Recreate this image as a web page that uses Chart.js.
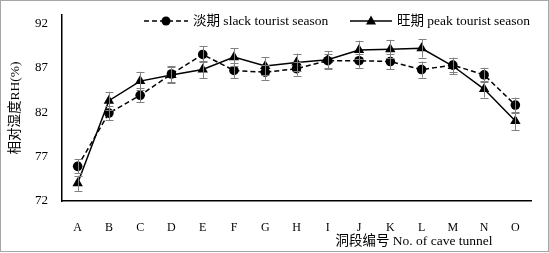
<!doctype html>
<head>
    <title>RH by cave tunnel</title>
    <script src="https://cdn.jsdelivr.net/npm/chart.js"></script>
    <style>
        body { margin: 0; background: #fff; }
        #wrap { position: relative; width: 547px; height: 250px; border: 1px solid #a6a6a6; overflow: hidden; }
        canvas { position: absolute; left: -1px; top: -1px; }
    </style>
</head>
<body>
<div id="wrap">
    <canvas id="myChart" width="549" height="253"></canvas>
</div>
</body>

<script>
    const categories = ['A', 'B', 'C', 'D', 'E', 'F', 'G', 'H', 'I', 'J', 'K', 'L', 'M', 'N', 'O'];
    const slackRH = [75.9, 81.9, 83.9, 86.3, 88.5, 86.7, 86.5, 86.9, 87.8, 87.8, 87.7, 86.8, 87.3, 86.2, 82.8];
    const peakRH = [74.0, 83.3, 85.5, 86.2, 86.8, 88.2, 87.2, 87.6, 87.9, 89.0, 89.1, 89.2, 87.2, 84.6, 81.0];
    const slackErr = [0.8, 0.8, 0.8, 0.9, 0.9, 0.85, 0.85, 0.8, 0.8, 0.8, 0.85, 0.9, 0.8, 0.8, 0.85];
    const peakErr = [0.85, 1.0, 1.05, 0.9, 1.0, 1.0, 1.0, 1.0, 1.0, 1.05, 1.05, 1.05, 0.95, 0.95, 1.0];
    const yTicks = [72, 77, 82, 87, 92];
    const slackLabel = '淡期 slack tourist season';
    const peakLabel = '旺期 peak tourist season';
    const yTitle = '相对湿度RH(%)';
    const xTitle = '洞段编号 No. of cave tunnel';

    const FONT = "'Liberation Serif', 'Noto Sans CJK SC', serif";

    // gray error bars with caps, drawn over the lines
    const errorBars = {
        id: 'errorBars',
        afterDatasetsDraw(chart) {
            const c = chart.ctx;
            const y = chart.scales.y;
            const errs = [slackErr, peakErr];
            c.save();
            c.strokeStyle = '#808080';
            c.lineWidth = 1;
            chart.data.datasets.forEach((ds, i) => {
                chart.getDatasetMeta(i).data.forEach((pt, j) => {
                    const top = y.getPixelForValue(ds.data[j] + errs[i][j]);
                    const bot = y.getPixelForValue(ds.data[j] - errs[i][j]);
                    const x = Math.round(pt.x) + 0.5;
                    c.beginPath();
                    c.moveTo(x, top); c.lineTo(x, bot);
                    c.moveTo(x - 4, Math.round(top) + 0.5); c.lineTo(x + 4, Math.round(top) + 0.5);
                    c.moveTo(x - 4, Math.round(bot) + 0.5); c.lineTo(x + 4, Math.round(bot) + 0.5);
                    c.stroke();
                });
            });
            c.restore();
        }
    };

    // legend and axis titles placed like the original figure
    const decorations = {
        id: 'decorations',
        afterDraw(chart) {
            const c = chart.ctx;
            c.save();
            c.fillStyle = '#000';
            c.strokeStyle = '#000';
            c.font = '13.5px ' + FONT;
            c.textBaseline = 'middle';

            const ly = 21;
            // slack
            c.lineWidth = 1.5;
            c.setLineDash([5, 3]);
            c.beginPath(); c.moveTo(144, ly); c.lineTo(188, ly); c.stroke();
            c.setLineDash([]);
            c.beginPath(); c.arc(166, ly, 4.5, 0, Math.PI * 2); c.fill();
            c.textAlign = 'left';
            c.fillText(slackLabel, 193, ly);
            // peak
            c.beginPath(); c.moveTo(350, ly); c.lineTo(392, ly); c.stroke();
            c.beginPath();
            c.moveTo(371, ly - 5.5); c.lineTo(376, ly + 3.5); c.lineTo(366, ly + 3.5);
            c.closePath(); c.fill();
            c.fillText(peakLabel, 397, ly);

            // x title
            c.textAlign = 'center';
            c.fillText(xTitle, 414, 241);

            // y title
            c.translate(15, 108);
            c.rotate(-Math.PI / 2);
            c.fillText(yTitle, 0, 0);
            c.restore();
        }
    };

    new Chart(document.getElementById('myChart'), {
        type: 'line',
        data: {
            labels: categories,
            datasets: [{
                label: slackLabel,
                data: slackRH,
                borderColor: '#000',
                backgroundColor: '#000',
                borderWidth: 1.5,
                borderDash: [5, 3],
                pointStyle: 'circle',
                pointRadius: 4.8,
                pointBorderWidth: 0,
                tension: 0
            },
            {
                label: peakLabel,
                data: peakRH,
                borderColor: '#000',
                backgroundColor: '#000',
                borderWidth: 1.5,
                pointStyle: 'triangle',
                pointRadius: 6,
                pointBorderWidth: 0,
                tension: 0
            }]
        },
        options: {
            responsive: false,
            animation: false,
            layout: { padding: { top: 14.5, right: 18, left: 0, bottom: 0 } },
            plugins: {
                legend: { display: false },
                tooltip: { enabled: false }
            },
            scales: {
                x: {
                    offset: true,
                    grid: { display: false, drawTicks: false },
                    border: { color: '#000', width: 1.5 },
                    ticks: {
                        color: '#000',
                        padding: 20,
                        maxRotation: 0,
                        font: { family: FONT, size: 12 }
                    },
                    afterFit(scale) { scale.height = 52; }
                },
                y: {
                    min: 72,
                    max: 93,
                    afterBuildTicks(scale) { scale.ticks = yTicks.map(v => ({ value: v })); },
                    grid: { display: false, drawTicks: false },
                    border: { color: '#000', width: 1.5 },
                    ticks: {
                        color: '#000',
                        padding: 14,
                        font: { family: FONT, size: 13 }
                    },
                    afterFit(scale) {
                        scale.width = 62;
                        scale.paddingTop = 0;
                        scale.paddingBottom = 0;
                    }
                }
            }
        },
        plugins: [errorBars, decorations]
    });
</script>
